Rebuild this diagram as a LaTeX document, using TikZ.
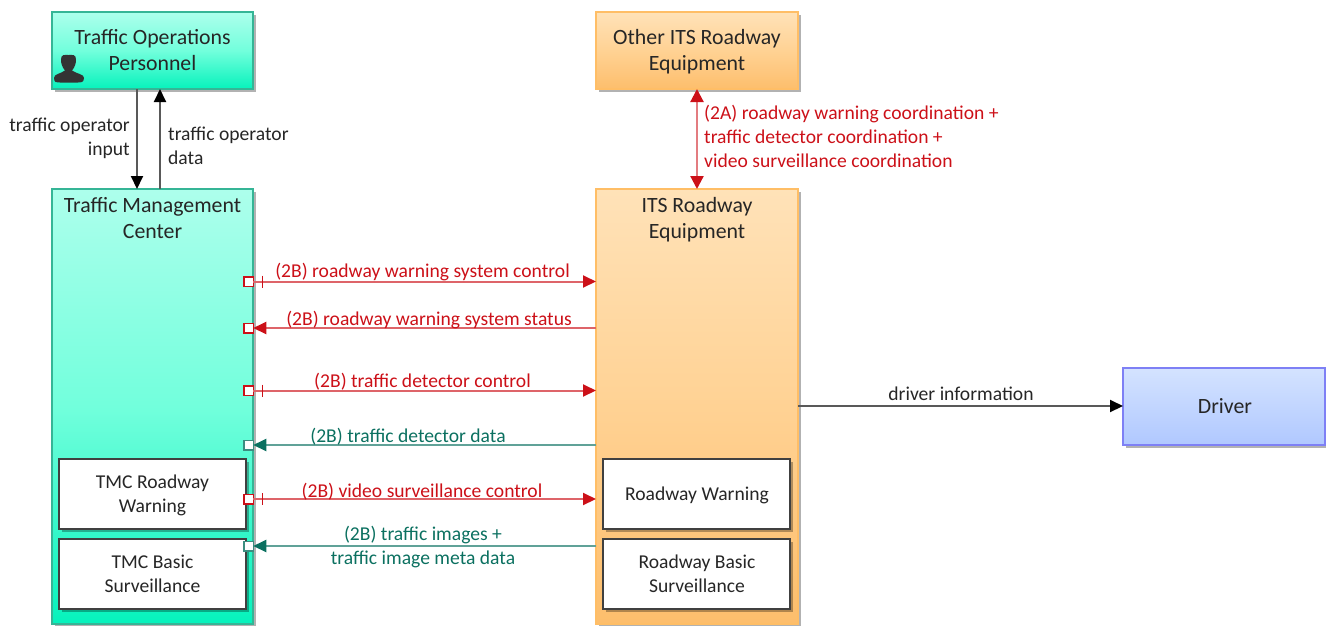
\documentclass[tikz,border=0pt]{standalone}
\usepackage{fontspec}
\setmainfont{Carlito}
\usetikzlibrary{shadows,arrows.meta,calc}
\definecolor{red1}{HTML}{CC1018}
\definecolor{green1}{HTML}{0B7060}
\definecolor{tealb}{HTML}{35B596}
\definecolor{orgb}{HTML}{FFBE66}
\definecolor{blub}{HTML}{7E80F5}
\definecolor{tealtop}{HTML}{ADFFEC}
\definecolor{tealmid}{HTML}{72FFDC}
\definecolor{tealbot}{HTML}{06F2BC}
\definecolor{orgtop}{HTML}{FFE2B8}
\definecolor{orgmid}{HTML}{FFD294}
\definecolor{orgbot}{HTML}{FDBE6C}
\definecolor{blutop}{HTML}{D4E3FF}
\definecolor{blubot}{HTML}{B0C8FF}
\tikzset{
  x=1pt,y=-1pt,
  shad/.style={drop shadow={shadow xshift=2.5pt,shadow yshift=-2.5pt,fill=black,opacity=.3}},
  boxbase/.style={draw,line width=1.6pt,shad,align=center,inner sep=0pt,outer sep=0pt},
  tealbox/.style={boxbase,draw=tealb,top color=tealtop,bottom color=tealbot,middle color=tealmid},
  orgbox/.style={boxbase,draw=orgb,top color=orgtop,bottom color=orgbot,middle color=orgmid},
  blubox/.style={boxbase,draw=blub,top color=blutop,bottom color=blubot},
  inner/.style={draw=black!75,line width=1.4pt,fill=white,shad,align=center,inner sep=0pt,outer sep=0pt},
  title/.style={font=\fontsize{21.8}{26}\selectfont,text=black!85,align=center,inner sep=0pt},
  ititle/.style={font=\fontsize{19.6}{24}\selectfont,text=black!85,align=center,inner sep=0pt},
  port/.style={draw=#1,fill=white,line width=1.5pt,minimum size=9.5pt,inner sep=0pt,outer sep=0pt},
  flow/.style={line width=2pt,draw=#1!65,-{Triangle[length=13pt,width=12pt,fill=#1,color=#1]}},
  bothflow/.style={line width=2.2pt,draw=#1!55,{Triangle[length=13pt,width=13pt,fill=#1,color=#1]}-{Triangle[length=13pt,width=13pt,fill=#1,color=#1]}},
  lab/.style={font=\fontsize{19.6}{24}\selectfont,text=#1,inner sep=0pt},
}
\begin{document}
\begin{tikzpicture}
\useasboundingbox (0,0) rectangle (1326,625);
\newcommand{\bx}[6]{\node[#1,minimum width=#4pt-#2pt,minimum height=#5pt-#3pt,anchor=north west] (#6) at (#2,#3) {};}
% boxes
\bx{tealbox}{52}{12}{253}{89}{top}
\node[title] (toptext) at (152.5,50) {Traffic Operations\\Personnel};
\bx{orgbox}{596}{12}{798}{89}{other}
\node[title] (othertext) at (697,52) {Other ITS Roadway\\Equipment};
\bx{tealbox}{52}{189}{253}{624}{tmc}
\node[title,anchor=north] (tmctext) at (152.5,197) {Traffic Management\\Center};
\bx{orgbox}{596}{189}{798}{624}{its}
\node[title,anchor=north] (itstext) at (697,197) {ITS Roadway\\Equipment};
\bx{blubox}{1123}{368}{1325}{445}{driver}
\node[title] (drivertext) at (1225,406) {Driver};
% inner
\bx{inner}{59}{459}{246}{529}{tmcw}
\node[ititle] (tmcwt) at (152.5,495.5) {TMC Roadway\\Warning};
\bx{inner}{59}{539}{246}{609}{tmcs}
\node[ititle] (tmcst) at (152.5,574) {TMC Basic\\Surveillance};
\bx{inner}{603}{459}{790}{529}{itsw}
\node[ititle] (itswt) at (697,495.5) {Roadway Warning};
\bx{inner}{603}{539}{790}{609}{itss}
\node[ititle] (itsst) at (697,574) {Roadway Basic\\Surveillance};
% person icon
\fill[black!80] (54,78) .. controls (54,74) and (60,74) .. (65,70.5) .. controls (62,67) and (61,63) .. (61,60) .. controls (61,54) and (64,55) .. (68.5,55) .. controls (73,55) and (76,54) .. (76,60) .. controls (76,63) and (75,67) .. (72,70.5) .. controls (77,74) and (84,74) .. (84,78) .. controls (84,83) and (80,82.5) .. (78,82.5) -- (60,82.5) .. controls (57,82.5) and (54,83) .. (54,78) -- cycle;
% ports
\node[port=red1] (p1) at (248.5,281.5) {};
\node[port=red1] (p2) at (248.5,328) {};
\node[port=red1] (p3) at (248.5,390.5) {};
\node[port=green1!80] (p4) at (248.5,445) {};
\node[port=red1] (p5) at (248.5,499) {};
\node[port=green1!80] (p6) at (248.5,546) {};
% free ends on the ITS west edge
\coordinate (i1) at (596,281.5);
\coordinate (i2) at (596,328);
\coordinate (i3) at (596,390.5);
\coordinate (i4) at (596,445);
\coordinate (i5) at (596,499);
\coordinate (i6) at (596,546);
% flows
\draw[flow=red1] (p1) -- (i1);
\draw[flow=red1] (i2) -- (p2);
\draw[flow=red1] (p3) -- (i3);
\draw[flow=green1] (i4) -- (p4);
\draw[flow=red1] (p5) -- (i5);
\draw[flow=green1] (i6) -- (p6);
\foreach \p in {p1,p3,p5}{\draw[red1,line width=1pt] ($(\p)+(14,-6)$) -- ($(\p)+(14,6)$);}
% operator
\coordinate (a1) at (137,89);\coordinate (a2) at (137,189);
\coordinate (b1) at (160,189);\coordinate (b2) at (160,89);
\draw[flow=black] (a1) -- (a2);
\draw[flow=black] (b1) -- (b2);
\node[lab=black!85,align=right,anchor=north east] (l1) at (130,118) {traffic operator\\input};
\node[lab=black!85,align=left,anchor=north west] (l2) at (168,127) {traffic operator\\data};
% 2A
\coordinate (c1) at (697,89);\coordinate (c2) at (697,189);
\draw[bothflow=red1] (c1) -- (c2);
\node[lab=red1,align=left,anchor=north west] (l3) at (704,104.5) {(2A) roadway warning coordination +\\traffic detector coordination +\\video surveillance coordination};
% driver
\coordinate (d1) at (798,406);
\draw[flow=black] (d1) -- (driver.west|-d1);
\node[lab=black!85] (l4) at (961,394) {driver information};
\node[lab=red1] (f1) at (422.5,272.5) {(2B) roadway warning system control};
\node[lab=red1] (f2) at (429,320) {(2B) roadway warning system status};
\node[lab=red1] (f3) at (422.5,382) {(2B) traffic detector control};
\node[lab=green1] (f4) at (408,437) {(2B) traffic detector data};
\node[lab=red1] (f5) at (422,492) {(2B) video surveillance control};
\node[lab=green1,align=center] (f6) at (423,547.5) {(2B) traffic images +\\traffic image meta data};
\end{tikzpicture}
\end{document}
